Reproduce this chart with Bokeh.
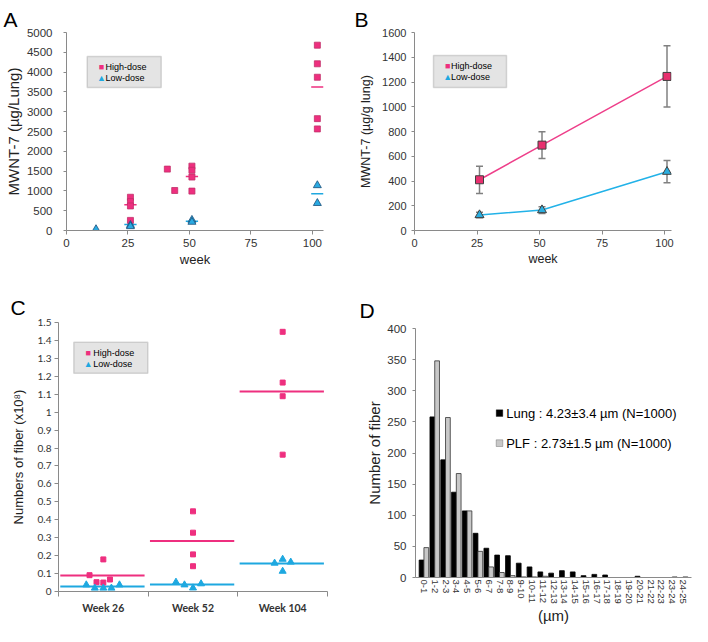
from bokeh.plotting import figure
from bokeh.layouts import row, column
from bokeh.models import (ColumnDataSource, Range1d, FactorRange, FixedTicker, SingleIntervalTicker,
                          Label, BoxAnnotation, Whisker, TeeHead, CustomJSTickFormatter)
from bokeh.transform import dodge
from bokeh.embed import file_html
from bokeh.resources import INLINE

# ---------------- data ----------------
# Panel A : MWNT-7 (ug/Lung) individual values
a_high_week = [26, 26, 26, 26, 41, 44, 51, 51, 51, 51, 102, 102, 102, 102, 102]
a_high_val = [840, 730, 620, 255, 1550, 1010, 1625, 1520, 1350, 995, 4680, 4210, 3870, 2825, 2565]
a_low_week = [12, 26, 26, 51, 51, 102, 102]
a_low_val = [30, 135, 105, 265, 215, 1140, 690]
a_mean_week = [26, 51, 102]
a_high_mean = [650, 1365, 3625]
a_low_mean = [150, 235, 925]
a_xticks = [0, 25, 50, 75, 100]

# Panel B : MWNT-7 (ug/g lung) mean +- SD
b_week = [26, 51, 101]
b_high = [410, 690, 1245]
b_high_sd = [110, 108, 248]
b_low = [125, 165, 475]
b_low_sd = [22, 27, 90]
b_xticks = [0, 25, 50, 75, 100]

# Panel C : numbers of fiber (x10^8)
c_weeks = ["Week 26", "Week 52", "Week 104"]
c_high_group = [0, 0, 0, 0, 0, 1, 1, 1, 1, 2, 2, 2, 2]
c_high_val = [0.091, 0.052, 0.050, 0.179, 0.067, 0.447, 0.328, 0.207, 0.141, 1.448, 1.165, 1.089, 0.763]
c_low_group = [0, 0, 0, 0, 0, 1, 1, 1, 1, 2, 2, 2, 2]
c_low_val = [0.037, 0.019, 0.019, 0.019, 0.037, 0.052, 0.037, 0.020, 0.043, 0.158, 0.180, 0.164, 0.113]
c_high_mean = [0.089, 0.281, 1.115]
c_low_mean = [0.028, 0.039, 0.156]

# Panel D : fiber length distribution
d_bins = ["0-1", "1-2", "2-3", "3-4", "4-5", "5-6", "6-7", "7-8", "8-9", "9-10", "10-11", "11-12",
          "12-13", "13-14", "14-15", "15-16", "16-17", "17-18", "18-19", "19-20", "20-21", "21-22",
          "22-23", "23-24", "24-25"]
d_lung = [28, 258, 189, 137, 107, 71, 47, 36, 35, 23, 17, 9, 7, 11, 9, 3, 5, 4, 0, 0, 2, 0, 0, 0, 0]
d_plf = [48, 348, 257, 167, 107, 42, 17, 8, 3, 1, 1, 2, 0, 0, 0, 0, 0, 0, 0, 0, 0, 0, 0, 1, 1]
d_legend = ["Lung : 4.23\u00b13.4 \u00b5m (N=1000)", "PLF : 2.73\u00b11.5 \u00b5m (N=1000)"]

# ---------------- layout / style constants ----------------
# within-group horizontal jitter for panel C points (layout only)
c_high_dx = [-0.154, -0.076, 0, 0, 0.074, 0, 0, 0, 0, 0, 0, 0, 0]
c_low_dx = [-0.19, -0.095, 0, 0.09, 0.18, -0.19, -0.095, 0, 0.09, -0.09, 0, 0.09, 0]

PINK = "#EE2F7F"
CYAN = "#1EA8E0"
AXIS = "#8a8a8a"
TXT = "#333333"
SANS = "Liberation Sans"


def make_fig(w, h, L, R, T, B, xr, yr):
    p = figure(width=w, height=h, x_range=xr, y_range=yr, output_backend="svg",
               toolbar_location=None, min_border_left=L, min_border_right=R,
               min_border_top=T, min_border_bottom=B)
    try:
        p.frame_align = False
    except Exception:
        pass
    p.outline_line_color = None
    p.xgrid.grid_line_color = None
    p.ygrid.grid_line_color = None
    p.border_fill_color = "white"
    return p


def style_axis(ax, font, size, tick_out, standoff, label_size=None, label_standoff=2):
    ax.axis_line_color = AXIS
    ax.axis_line_width = 1
    ax.major_tick_line_color = AXIS
    ax.major_tick_in = 0
    ax.major_tick_out = tick_out
    ax.minor_tick_line_color = None
    ax.major_label_text_font = font
    ax.major_label_text_font_size = f"{size}px"
    ax.major_label_text_color = TXT
    ax.major_label_standoff = standoff
    ax.axis_label_text_font = SANS
    ax.axis_label_text_font_style = "normal"
    ax.axis_label_text_color = "#222222"
    if label_size:
        ax.axis_label_text_font_size = f"{label_size}px"
    ax.axis_label_standoff = label_standoff


class Frame:
    """converts page pixel positions into frame-relative screen units"""
    def __init__(self, ox, oy, L, T, H):
        self.ox, self.oy, self.L, self.T, self.H = ox, oy, L, T, H

    def sx(self, px):
        return px - self.ox - self.L

    def sy(self, py):
        return self.T + self.H - (py - self.oy)


def letter_title(p, letter, offset, standoff):
    p.title.text = letter
    p.title.text_font = SANS
    p.title.text_font_size = "21px"
    p.title.text_font_style = "normal"
    p.title.text_color = "black"
    p.title.align = "left"
    p.title.offset = offset
    p.title.standoff = standoff


def legend_box(p, fr, x0, x1, y0, y1, fill="#E4E4E4", line="#858585", lw=1.5):
    p.add_layout(BoxAnnotation(left=fr.sx(x0), right=fr.sx(x1), top=fr.sy(y0), bottom=fr.sy(y1),
                               left_units="screen", right_units="screen", top_units="screen",
                               bottom_units="screen", fill_color=fill, fill_alpha=1,
                               line_color=line, line_width=lw, level="overlay"))


def legend_text(p, fr, px, py, text, color="black", size=9, align="left"):
    p.add_layout(Label(x=fr.sx(px), y=fr.sy(py), x_units="screen", y_units="screen",
                       text=text, text_font=SANS, text_font_size=f"{size}px", text_color=color,
                       text_align=align, text_baseline="middle", level="overlay"))


def dose_legend(p, fr, box, mark_x, text_x, y_high, y_low):
    legend_box(p, fr, *box)
    legend_text(p, fr, mark_x, y_high, "\u25a0", PINK, 9, "center")
    legend_text(p, fr, text_x, y_high, "High-dose")
    legend_text(p, fr, mark_x, y_low, "\u25b2", CYAN, 9, "center")
    legend_text(p, fr, text_x, y_low, "Low-dose")


# ---------------- Panel A ----------------
pa = make_fig(350, 270, 66, 27, 32, 40, Range1d(0, 104.5), Range1d(0, 5000))
frA = Frame(0, 0, 66, 32, 198)
style_axis(pa.xaxis[0], SANS, 11.5, 4, 4, 13, 2)
style_axis(pa.yaxis[0], SANS, 11.5, 3, 10, 15, 2)
pa.xaxis.ticker = FixedTicker(ticks=a_xticks)
pa.yaxis.ticker = SingleIntervalTicker(interval=500)
pa.xaxis.axis_label = "week"
pa.yaxis.axis_label = "MWNT-7 (\u00b5g/Lung)"

pa.segment(x0=[w - 2.5 for w in a_mean_week], x1=[w + 2.5 for w in a_mean_week],
           y0=a_high_mean, y1=a_high_mean, line_color=PINK, line_width=1.5)
pa.segment(x0=[w - 2.5 for w in a_mean_week], x1=[w + 2.5 for w in a_mean_week],
           y0=a_low_mean, y1=a_low_mean, line_color=CYAN, line_width=1.5)
pa.scatter(a_high_week, a_high_val, marker="square", size=6, fill_color=PINK,
           line_color="#C2306A", line_width=0.8)
pa.scatter(a_low_week, a_low_val, marker="triangle", size=8, fill_color="#2AAAE2",
           line_color="#1B4F7A", line_width=0.8)
dose_legend(pa, frA, (86.7, 160.7, 56, 87), 101, 105, 66.7, 77)
letter_title(pa, "A", 3 - 66, 4)

# ---------------- Panel B ----------------
pb = make_fig(342, 270, 64, 21, 32, 40, Range1d(0, 102.8), Range1d(0, 1600))
frB = Frame(350, 0, 64, 32, 198)
style_axis(pb.xaxis[0], SANS, 11, 4, 4, 12.5, 2)
style_axis(pb.yaxis[0], SANS, 11, 3, 4, 12.5, 6)
pb.xaxis.ticker = FixedTicker(ticks=b_xticks)
pb.yaxis.ticker = SingleIntervalTicker(interval=200)
pb.xaxis.axis_label = "week"
pb.yaxis.axis_label = "MWNT-7 (\u00b5g/g lung)"

src_b = ColumnDataSource(dict(
    week=b_week, high=b_high, low=b_low,
    hlo=[m - s for m, s in zip(b_high, b_high_sd)], hhi=[m + s for m, s in zip(b_high, b_high_sd)],
    llo=[m - s for m, s in zip(b_low, b_low_sd)], lhi=[m + s for m, s in zip(b_low, b_low_sd)]))
for lo, hi in (("hlo", "hhi"), ("llo", "lhi")):
    pb.add_layout(Whisker(source=src_b, base="week", lower=lo, upper=hi, line_color="#808080",
                          line_width=1.5,
                          upper_head=TeeHead(size=7, line_color="#808080", line_width=1.5),
                          lower_head=TeeHead(size=7, line_color="#808080", line_width=1.5)))
pb.line("week", "high", source=src_b, line_color="#EE3F8A", line_width=1.5)
pb.line("week", "low", source=src_b, line_color="#22B2E8", line_width=1.5)
pb.scatter("week", "high", source=src_b, marker="square", size=8, fill_color="#E8306F",
           line_color="#404040", line_width=1)
pb.scatter("week", "low", source=src_b, marker="triangle", size=9, fill_color="#2AAEE0",
           line_color="#404040", line_width=1)
dose_legend(pb, frB, (433, 506, 55, 87), 447.2, 450.5, 65.7, 76)
letter_title(pb, "B", 354 - 350 - 64, 4)

# ---------------- Panel C ----------------
pc = make_fig(350, 356, 58, 23, 52, 35, Range1d(0, 3), Range1d(0, 1.5))
frC = Frame(0, 270, 58, 52, 269)
style_axis(pc.xaxis[0], "Lato", 10.5, 0, 5)
style_axis(pc.yaxis[0], "Lato", 10, 4, 3, 13, 9)
pc.xaxis.major_label_text_font_style = "bold"
pc.xaxis.ticker = FixedTicker(ticks=[i + 0.5 for i in range(len(c_weeks))],
                              minor_ticks=list(range(len(c_weeks) + 1)))
pc.xaxis.minor_tick_line_color = AXIS
pc.xaxis.minor_tick_out = 5
pc.xaxis.minor_tick_in = 0
pc.xaxis.major_label_overrides = {i + 0.5: w for i, w in enumerate(c_weeks)}
pc.yaxis.ticker = FixedTicker(ticks=[i / 10 for i in range(16)])
pc.yaxis.formatter = CustomJSTickFormatter(code="return String(Math.round(tick * 10) / 10);")
pc.yaxis.axis_label = "Numbers of fiber (x10\u2078)"

grp = list(range(len(c_weeks)))
pc.segment(x0=[g + 0.02 for g in grp], x1=[g + 0.96 for g in grp], y0=c_high_mean, y1=c_high_mean,
           line_color=PINK, line_width=2)
pc.segment(x0=[g + 0.02 for g in grp], x1=[g + 0.96 for g in grp], y0=c_low_mean, y1=c_low_mean,
           line_color=CYAN, line_width=2)
pc.scatter([g + 0.5 + d for g, d in zip(c_high_group, c_high_dx)], c_high_val, marker="square",
           size=5, fill_color=PINK, line_color=PINK)
pc.scatter([g + 0.5 + d for g, d in zip(c_low_group, c_low_dx)], c_low_val, marker="triangle",
           size=7, fill_color=CYAN, line_color=CYAN)
dose_legend(pc, frC, (73.3, 147.3, 341.7, 372.7), 87.8, 92.7, 352.7, 363)
letter_title(pc, "C", 10 - 58, 7)

# ---------------- Panel D ----------------
pd_ = make_fig(342, 356, 65, 1, 58, 46,
               FactorRange(factors=d_bins, range_padding=0.28, range_padding_units="absolute"),
               Range1d(0, 400))
frD = Frame(350, 270, 65, 58, 252)
style_axis(pd_.xaxis[0], SANS, 9.5, 0, 2, 15, 0)
style_axis(pd_.yaxis[0], SANS, 11.5, 3, 5, 15, 1)
pd_.xaxis.major_label_orientation = "vertical"
pd_.xaxis.axis_label = "(\u00b5m)"
pd_.yaxis.axis_label = "Number of fiber"
pd_.yaxis.ticker = SingleIntervalTicker(interval=50)

src_d = ColumnDataSource(dict(bin=d_bins, lung=d_lung, plf=d_plf))
pd_.vbar(x=dodge("bin", -0.22, range=pd_.x_range), top="lung", width=0.44, source=src_d,
         fill_color="black", line_color="black", line_width=0.8)
pd_.vbar(x=dodge("bin", 0.22, range=pd_.x_range), top="plf", width=0.44, source=src_d,
         fill_color="#C8C8C8", line_color="#333333", line_width=0.8)
legend_box(pd_, frD, 495.7, 502.3, 412.3, 419, fill="black", line="black", lw=1)
legend_text(pd_, frD, 505.7, 415.7, d_legend[0], "black", 13)
legend_box(pd_, frD, 495.7, 502.3, 442.3, 449, fill="#C8C8C8", line="#333333", lw=1)
legend_text(pd_, frD, 505.7, 445.7, d_legend[1], "black", 13)
letter_title(pd_, "D", 359 - 350 - 65, 13)

layout = column(row(pa, pb), row(pc, pd_))
open("out.html", "w").write(file_html(layout, INLINE, "MWNT-7"))
